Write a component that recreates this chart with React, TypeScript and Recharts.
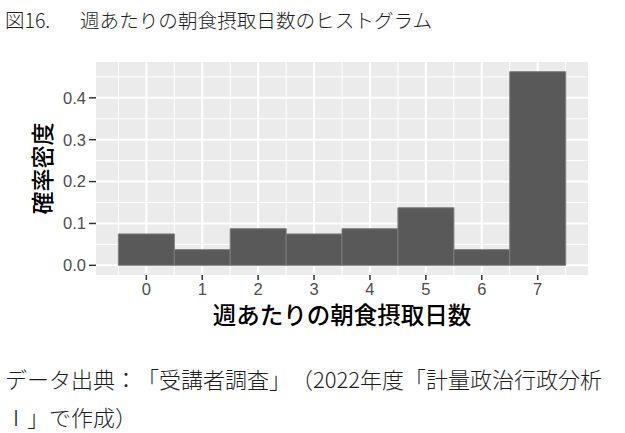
import React from 'react';
import {
  ComposedChart,
  Bar,
  XAxis,
  YAxis,
  CartesianGrid,
  Label,
} from 'recharts';

// ---- data ----
const days = [0, 1, 2, 3, 4, 5, 6, 7];
const density = [0.075, 0.0375, 0.0875, 0.075, 0.0875, 0.1375, 0.0375, 0.4625];
const yTicks = [0, 0.1, 0.2, 0.3, 0.4];
const yMinor = [0.05, 0.15, 0.25, 0.35, 0.45];
const xTicks = [0, 1, 2, 3, 4, 5, 6, 7];
const xMinor = [-0.5, 0.5, 1.5, 2.5, 3.5, 4.5, 5.5, 6.5, 7.5];

const titleFig = '図16.';
const titleText = '週あたりの朝食摂取日数のヒストグラム';
const xTitle = '週あたりの朝食摂取日数';
const yTitle = '確率密度';
const caption1 = 'データ出典：「受講者調査」（2022年度「計量政治行政分析';
const caption2 = 'Ⅰ」で作成）';

const data = days.map((d, i) => ({ day: d, density: density[i] }));

const jp = '"Noto Sans CJK JP", "Noto Sans", sans-serif';
const latin = '"Liberation Sans", Arial, sans-serif';

const textBase: React.CSSProperties = {
  position: 'absolute',
  fontFamily: jp,
  color: '#1e1e1e',
  fontWeight: 300,
  whiteSpace: 'nowrap',
  // keep full-width punctuation spacing
  ['textSpacingTrim' as any]: 'space-all',
};

export default function App() {
  return (
    <div
      style={{
        position: 'absolute',
        left: 0,
        top: 0,
        width: 625,
        height: 433,
        background: '#ffffff',
        overflow: 'hidden',
      }}
    >
      <div style={{ ...textBase, left: 5, top: 10, fontSize: 19.5, lineHeight: '20px' }}>
        {titleFig}
      </div>
      <div style={{ ...textBase, left: 80, top: 10, fontSize: 19.6, lineHeight: '20px' }}>
        {titleText}
      </div>

      <div style={{ position: 'absolute', left: 0, top: 0 }}>
        <ComposedChart
          width={625}
          height={433}
          data={data}
          margin={{ top: 62, right: 37, bottom: 98, left: 36 }}
          barCategoryGap={0}
          barGap={0}
        >
          <CartesianGrid
            fill="#EBEBEB"
            stroke="#FFFFFF"
            strokeWidth={1}
            horizontalValues={yMinor}
            verticalValues={xMinor}
          />
          <CartesianGrid
            fill="none"
            stroke="#FFFFFF"
            strokeWidth={2}
            horizontalValues={yTicks}
            verticalValues={xTicks}
          />
          <XAxis
            dataKey="day"
            type="number"
            domain={[-0.9, 7.9]}
            ticks={xTicks}
            allowDataOverflow
            height={60}
            axisLine={false}
            tickSize={5}
            tickMargin={3}
            tickLine={{ stroke: '#333333', strokeWidth: 1.5 }}
            tick={{ fill: '#4D4D4D', fontSize: 16.5, fontFamily: latin }}
            interval={0}
          >
            <Label
              value={xTitle}
              position="insideBottom"
              offset={11}
              style={{ fontFamily: jp, fontSize: 23.5, fill: '#000000', fontWeight: 500 }}
            />
          </XAxis>
          <YAxis
            type="number"
            domain={[-0.0231, 0.4856]}
            ticks={yTicks}
            allowDataOverflow
            width={60}
            axisLine={false}
            tickSize={7}
            tickMargin={3}
            tickLine={{ stroke: '#333333', strokeWidth: 1.5 }}
            tick={{ fill: '#4D4D4D', fontSize: 16.5, fontFamily: latin }}
            tickFormatter={(v: number) => v.toFixed(1)}
            interval={0}
          >
            <Label
              value={yTitle}
              angle={-90}
              position="insideLeft"
              offset={7}
              style={{ textAnchor: 'middle', fontFamily: jp, fontSize: 23, fill: '#000000', fontWeight: 500 }}
            />
          </YAxis>
          <Bar
            dataKey="density"
            fill="#595959"
            stroke="#7F7F7F"
            strokeWidth={1}
            isAnimationActive={false}
          />
        </ComposedChart>
      </div>

      <div style={{ ...textBase, left: 5, top: 367, fontSize: 22, lineHeight: '22px' }}>
        {caption1}
      </div>
      <div style={{ ...textBase, left: 5, top: 405, fontSize: 22, lineHeight: '22px' }}>
        {caption2}
      </div>
    </div>
  );
}
